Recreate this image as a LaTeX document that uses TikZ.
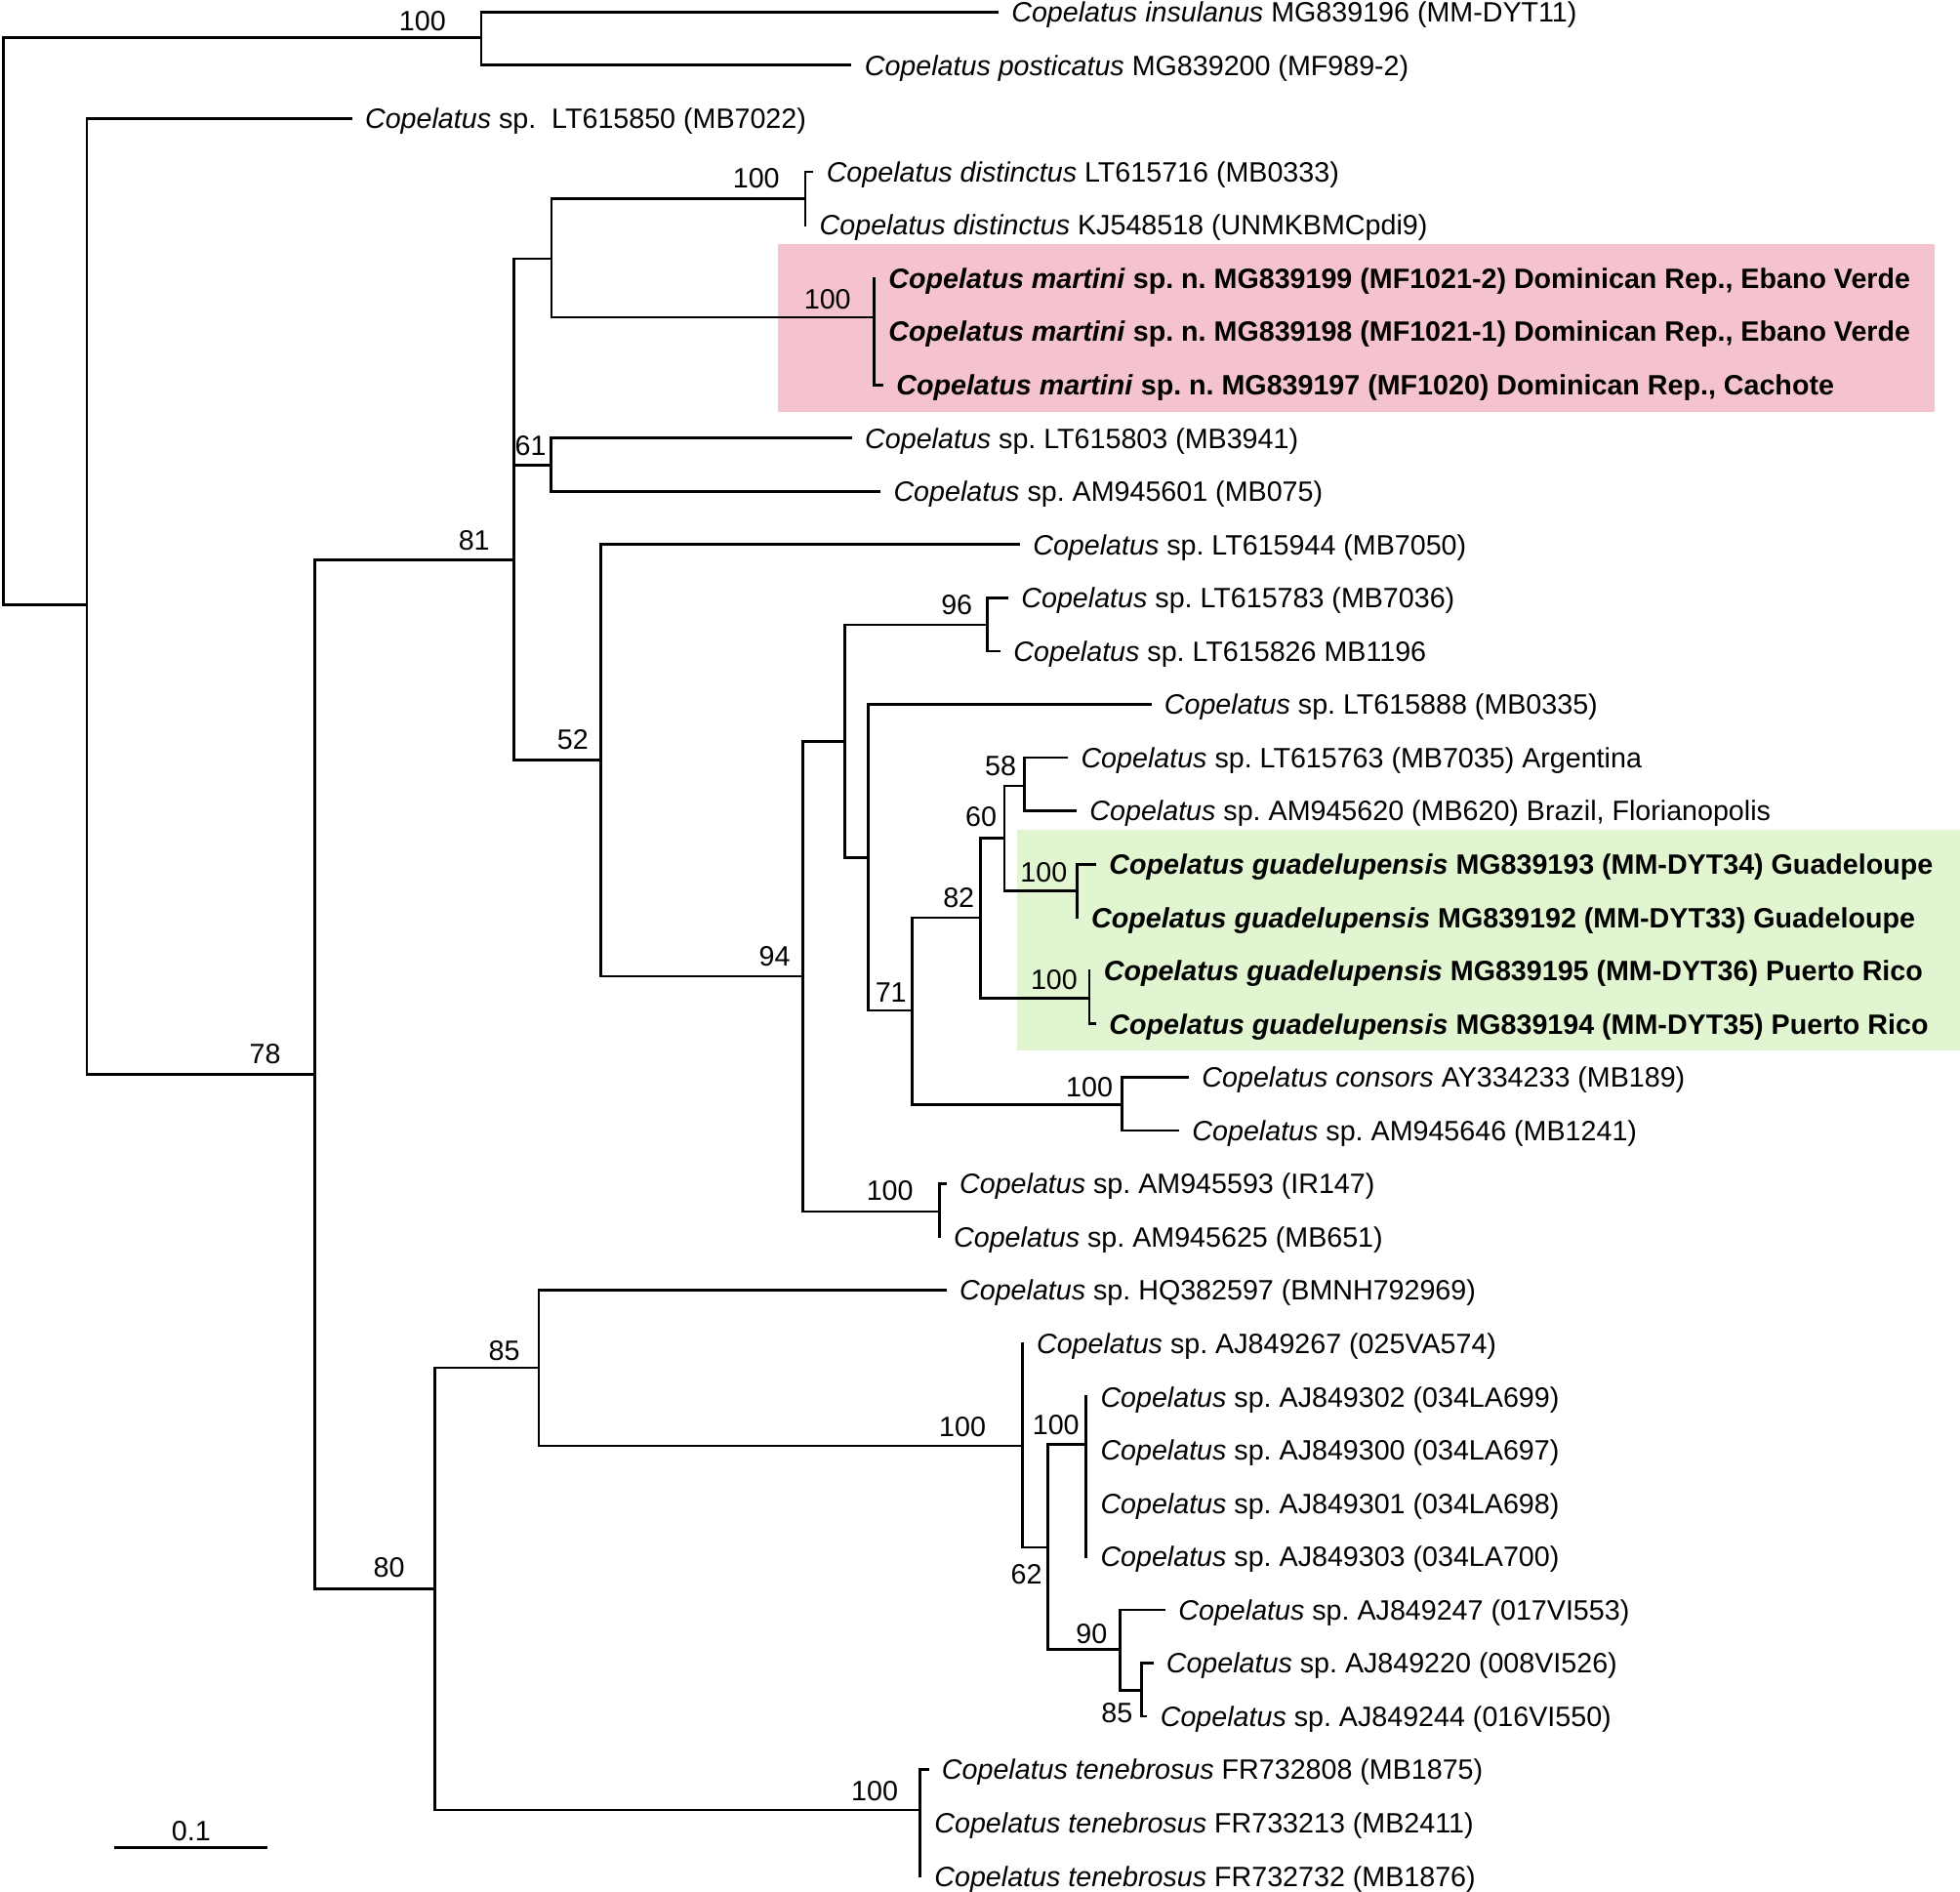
\documentclass[tikz,border=0pt]{standalone}
\usepackage{fontspec}
\setmainfont{Liberation Sans}
\usepackage{tikz}
\usetikzlibrary{positioning}
\frenchspacing
\definecolor{martinipink}{RGB}{245,195,205}
\definecolor{guadegreen}{RGB}{225,245,208}
\tikzset{
  branch/.style={draw=black, line width=0.8pt, line cap=rect},
  taxon/.style={anchor=west, inner xsep=4pt, inner ysep=0pt, text height=5.9pt, text depth=0pt, font=\fontsize{8.15}{9.8}\selectfont},
  newtaxon/.style={taxon, font=\fontsize{8.15}{9.8}\selectfont\bfseries},
  boot/.style={inner sep=0pt, font=\fontsize{8.15}{9.8}\selectfont}
}

\begin{document}
\begin{tikzpicture}[x=0.0128cm, y=-0.0128cm]
\useasboundingbox (0,0) rectangle (1568,1513);
% highlighted clades
\fill[martinipink] (622,195.5) rectangle (1548,329.3);
\fill[guadegreen] (813.6,663.8) rectangle (1568,840);
% internal nodes
\coordinate (root) at (2.8,30);
\coordinate (cIns) at (385,30);
\coordinate (cA) at (69.5,484);
\coordinate (c78) at (251.7,859.6);
\coordinate (c81) at (411.3,447.7);
\coordinate (cE) at (441.2,207);
\coordinate (cDist) at (644.2,158.8);
\coordinate (cMart) at (699.4,253.8);
\coordinate (c61) at (440.5,372.2);
\coordinate (c52) at (480.7,607.8);
\coordinate (c94) at (642,780.9);
\coordinate (cK) at (676,593);
\coordinate (c96) at (790.1,499.8);
\coordinate (cM) at (694.7,685.9);
\coordinate (c71) at (729.6,808.2);
\coordinate (c82) at (784.3,734);
\coordinate (c60) at (803.5,670.3);
\coordinate (c58) at (819.4,628.6);
\coordinate (cGuaA) at (861.6,712.7);
\coordinate (cGuaB) at (871.5,798.6);
\coordinate (cCons) at (897.5,883.3);
\coordinate (cQ) at (751.5,969);
\coordinate (c80) at (348,1270.8);
\coordinate (c85) at (431.1,1094);
\coordinate (cZ) at (817.8,1156.5);
\coordinate (c62) at (838.1,1237.7);
\coordinate (cAB) at (868.9,1155.2);
\coordinate (c90) at (896.2,1319.2);
\coordinate (c85b) at (913.1,1352.2);
\coordinate (cTen) at (736.1,1447.8);
% taxa
\node[taxon] (t01) at (797.7,9.6) {\textit{Copelatus insulanus} MG839196 (MM-DYT11)};
\node[taxon] (t02) at (680.2,52.2) {\textit{Copelatus posticatus} MG839200 (MF989-2)};
\node[taxon] (t03) at (280.6,94.8) {\textit{Copelatus} sp.\ \ LT615850 (MB7022)};
\node[taxon] (t04) at (649.7,137.4) {\textit{Copelatus distinctus} LT615716 (MB0333)};
\node[taxon] (t05) at (644.2,180) {\textit{Copelatus distinctus} KJ548518 (UNMKBMCpdi9)};
\node[newtaxon] (t06) at (699.4,222.6) {\textit{Copelatus martini} sp. n. MG839199 (MF1021-2) Dominican Rep., Ebano Verde};
\node[newtaxon] (t07) at (699.4,265.2) {\textit{Copelatus martini} sp. n. MG839198 (MF1021-1) Dominican Rep., Ebano Verde};
\node[newtaxon] (t08) at (705.6,307.8) {\textit{Copelatus martini} sp. n. MG839197 (MF1020) Dominican Rep., Cachote};
\node[taxon] (t09) at (680.5,350.4) {\textit{Copelatus} sp. LT615803 (MB3941)};
\node[taxon] (t10) at (703.4,393) {\textit{Copelatus} sp. AM945601 (MB075)};
\node[taxon] (t11) at (814.9,435.6) {\textit{Copelatus} sp. LT615944 (MB7050)};
\node[taxon] (t12) at (805.6,478.2) {\textit{Copelatus} sp. LT615783 (MB7036)};
\node[taxon] (t13) at (799.4,520.8) {\textit{Copelatus} sp. LT615826 MB1196};
\node[taxon] (t14) at (920,563.4) {\textit{Copelatus} sp. LT615888 (MB0335)};
\node[taxon] (t15) at (853.3,606) {\textit{Copelatus} sp. LT615763 (MB7035) Argentina};
\node[taxon] (t16) at (860.3,648.6) {\textit{Copelatus} sp. AM945620 (MB620) Brazil, Florianopolis};
\node[newtaxon] (t17) at (875.9,691.2) {\textit{Copelatus guadelupensis} MG839193 (MM-DYT34) Guadeloupe};
\node[newtaxon] (t18) at (861.6,733.8) {\textit{Copelatus guadelupensis} MG839192 (MM-DYT33) Guadeloupe};
\node[newtaxon] (t19) at (871.5,776.4) {\textit{Copelatus guadelupensis} MG839195 (MM-DYT36) Puerto Rico};
\node[newtaxon] (t20) at (875.9,819) {\textit{Copelatus guadelupensis} MG839194 (MM-DYT35) Puerto Rico};
\node[taxon] (t21) at (950.1,861.6) {\textit{Copelatus consors} AY334233 (MB189)};
\node[taxon] (t22) at (942.3,904.2) {\textit{Copelatus} sp. AM945646 (MB1241)};
\node[taxon] (t23) at (756.2,946.8) {\textit{Copelatus} sp. AM945593 (IR147)};
\node[taxon] (t24) at (751.5,989.4) {\textit{Copelatus} sp. AM945625 (MB651)};
\node[taxon] (t25) at (756.2,1032) {\textit{Copelatus} sp. HQ382597 (BMNH792969)};
\node[taxon] (t26) at (817.8,1074.6) {\textit{Copelatus} sp. AJ849267 (025VA574)};
\node[taxon] (t27) at (868.9,1117.2) {\textit{Copelatus} sp. AJ849302 (034LA699)};
\node[taxon] (t28) at (868.9,1159.8) {\textit{Copelatus} sp. AJ849300 (034LA697)};
\node[taxon] (t29) at (868.9,1202.4) {\textit{Copelatus} sp. AJ849301 (034LA698)};
\node[taxon] (t30) at (868.9,1245) {\textit{Copelatus} sp. AJ849303 (034LA700)};
\node[taxon] (t31) at (931.3,1287.6) {\textit{Copelatus} sp. AJ849247 (017VI553)};
\node[taxon] (t32) at (921.5,1330.2) {\textit{Copelatus} sp. AJ849220 (008VI526)};
\node[taxon] (t33) at (916.8,1372.8) {\textit{Copelatus} sp. AJ849244 (016VI550)};
\node[taxon] (t34) at (742,1415.4) {\textit{Copelatus tenebrosus} FR732808 (MB1875)};
\node[taxon] (t35) at (736.1,1458) {\textit{Copelatus tenebrosus} FR733213 (MB2411)};
\node[taxon] (t36) at (736.1,1500.6) {\textit{Copelatus tenebrosus} FR732732 (MB1876)};
% branches
\draw[branch] (root) |- (cIns) (root) |- (cA);
\draw[branch] (cIns) |- (t01.west) (cIns) |- (t02.west);
\draw[branch] (cA) |- (t03.west) (cA) |- (c78);
\draw[branch] (c78) |- (c81) (c78) |- (c80);
\draw[branch] (c81) |- (cE) (c81) |- (c61) (c81) |- (c52);
\draw[branch] (cE) |- (cDist) (cE) |- (cMart);
\draw[branch] (cDist) |- (t04.west) (cDist) |- (t05.west);
\draw[branch] (cMart) |- (t06.west) (cMart) |- (t07.west) (cMart) |- (t08.west);
\draw[branch] (c61) |- (t09.west) (c61) |- (t10.west);
\draw[branch] (c52) |- (t11.west) (c52) |- (c94);
\draw[branch] (c94) |- (cK) (c94) |- (cQ);
\draw[branch] (cK) |- (c96) (cK) |- (cM);
\draw[branch] (c96) |- (t12.west) (c96) |- (t13.west);
\draw[branch] (cM) |- (t14.west) (cM) |- (c71);
\draw[branch] (c71) |- (c82) (c71) |- (cCons);
\draw[branch] (c82) |- (c60) (c82) |- (cGuaB);
\draw[branch] (c60) |- (c58) (c60) |- (cGuaA);
\draw[branch] (c58) |- (t15.west) (c58) |- (t16.west);
\draw[branch] (cGuaA) |- (t17.west) (cGuaA) |- (t18.west);
\draw[branch] (cGuaB) |- (t19.west) (cGuaB) |- (t20.west);
\draw[branch] (cCons) |- (t21.west) (cCons) |- (t22.west);
\draw[branch] (cQ) |- (t23.west) (cQ) |- (t24.west);
\draw[branch] (c80) |- (c85) (c80) |- (cTen);
\draw[branch] (c85) |- (t25.west) (c85) |- (cZ);
\draw[branch] (cZ) |- (t26.west) (cZ) |- (c62);
\draw[branch] (c62) |- (cAB) (c62) |- (c90);
\draw[branch] (cAB) |- (t27.west) (cAB) |- (t28.west) (cAB) |- (t29.west) (cAB) |- (t30.west);
\draw[branch] (c90) |- (t31.west) (c90) |- (c85b);
\draw[branch] (c85b) |- (t32.west) (c85b) |- (t33.west);
\draw[branch] (cTen) |- (t34.west) (cTen) |- (t35.west) (cTen) |- (t36.west);
% bootstrap values
\node[boot] (bIns) at (338,16.9) {100};
\node[boot] (b78) at (212.1,843.4) {78};
\node[boot] (b81) at (379.3,432.1) {81};
\node[boot] (b61) at (424.5,356.6) {61};
\node[boot] (bDist) at (605,143) {100};
\node[boot] (bMart) at (662,239.5) {100};
\node[boot] (b52) at (458.2,591.4) {52};
\node[boot] (b94) at (619.7,765.3) {94};
\node[boot] (b96) at (765.4,484.2) {96};
\node[boot] (b71) at (712.7,793.9) {71};
\node[boot] (b82) at (767,718.4) {82};
\node[boot] (b60) at (784.8,653.3) {60};
\node[boot] (b58) at (800.4,613) {58};
\node[boot] (bGuaA) at (835,697.6) {100};
\node[boot] (bGuaB) at (843.3,784) {100};
\node[boot] (bCons) at (871.5,869.9) {100};
\node[boot] (bQ) at (711.9,952.7) {100};
\node[boot] (b80) at (311.3,1253.5) {80};
\node[boot] (b85) at (403.4,1080.1) {85};
\node[boot] (bZ) at (770,1141.4) {100};
\node[boot] (bAB) at (844.7,1140.1) {100};
\node[boot] (b62) at (821.2,1259.3) {62};
\node[boot] (b90) at (873.3,1306.7) {90};
\node[boot] (b85b) at (893.6,1370.5) {85};
\node[boot] (bTen) at (699.7,1433) {100};
% scale bar
\coordinate (sb1) at (92.1,1477.7);
\coordinate (sb2) at (213.2,1477.7);
\draw[branch] (sb1) -- (sb2);
\node[boot] (sbl) at (152.9,1465) {0.1};
\end{tikzpicture}
\end{document}
